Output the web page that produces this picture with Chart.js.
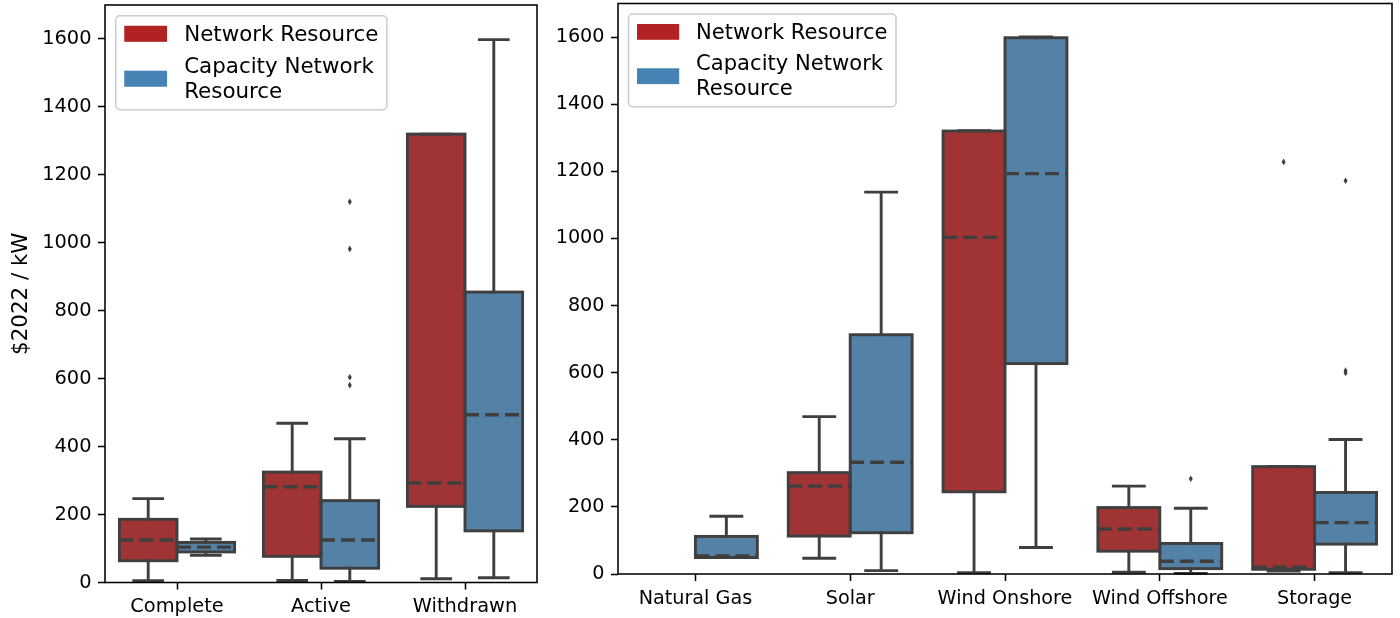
<!DOCTYPE html>
<html>
<head>
<meta charset="utf-8">
<script src="https://cdn.jsdelivr.net/npm/chart.js@4.4.1/dist/chart.umd.min.js"></script>
<style>
  html, body { margin: 0; padding: 0; background: #ffffff; }
  #wrap { position: relative; width: 1400px; height: 618px; overflow: hidden; }
  canvas { position: absolute; top: 0; }
  #statusChart { left: 0; }
  #techChart { left: 545px; }
</style>
</head>
<body>
<div id="wrap">
  <canvas id="statusChart" width="545" height="618"></canvas>
  <canvas id="techChart" width="855" height="618"></canvas>
</div>
<script>
// Interconnection upgrade cost distributions, $2022 per kW.
// Each box: lower whisker, Q1, median, Q3, upper whisker, plus outlying points.

const seriesNames = [['Network Resource'], ['Capacity Network', 'Resource']];
const yTickValues = [0, 200, 400, 600, 800, 1000, 1200, 1400, 1600];
const yAxisTitle = '$2022 / kW';

// ---- by queue status ----
const statusCategories = ['Complete', 'Active', 'Withdrawn'];

const statusNrLow    = [5, 6, 11];
const statusNrQ1     = [64, 77, 224];
const statusNrMedian = [125, 282, 293];
const statusNrQ3     = [186, 325, 1320];
const statusNrHigh   = [247, 469, 1320];
const statusNrFliers = [[], [], []];

const statusCnrLow    = [80, 3, 14];
const statusCnrQ1     = [90, 42, 152];
const statusCnrMedian = [104, 125, 494];
const statusCnrQ3     = [118, 241, 855];
const statusCnrHigh   = [128, 423, 1598];
const statusCnrFliers = [[], [1121, 982, 604, 581], []];

// ---- by technology ----
const techCategories = ['Natural Gas', 'Solar', 'Wind Onshore', 'Wind Offshore', 'Storage'];

const techNrLow    = [null, 47, 4, 5, 9];
const techNrQ1     = [null, 113, 245, 68, 14];
const techNrMedian = [null, 262, 1003, 134, 20];
const techNrQ3     = [null, 302, 1320, 198, 320];
const techNrHigh   = [null, 469, 1321, 262, 320];
const techNrFliers = [[], [], [], [], [1228]];

const techCnrLow    = [49, 10, 79, 2, 4];
const techCnrQ1     = [49, 123, 627, 16, 89];
const techCnrMedian = [54, 333, 1193, 38, 153];
const techCnrQ3     = [112, 713, 1598, 91, 243];
const techCnrHigh   = [172, 1138, 1600, 196, 401];
const techCnrFliers = [[], [], [], [284], [1172, 606, 599]];

// ---- styling ----
const FONT = 'DejaVu Sans';
const boxFill = ['#A03434', '#5481A6'];
const legendFill = ['#B22222', '#4682B4'];
const lineGray = '#3f3f3f';
const LW = 2.9;

Chart.defaults.font.family = FONT;
Chart.defaults.color = '#000';

// whiskers, caps, box outlines, dashed medians and outlier diamonds
function boxDetailsPlugin(stats) {
  return {
    id: 'boxDetails',
    afterDatasetsDraw(chart) {
      const ctx = chart.ctx;
      const ys = chart.scales.y;
      ctx.save();
      ctx.strokeStyle = lineGray;
      ctx.fillStyle = lineGray;
      ctx.lineWidth = LW;
      stats.forEach((st, d) => {
        const meta = chart.getDatasetMeta(d);
        meta.data.forEach((bar, i) => {
          if (st.q1[i] == null) return;
          const { x, width } = bar.getProps(['x', 'width'], true);
          const yLo = ys.getPixelForValue(st.low[i]);
          const yQ1 = ys.getPixelForValue(st.q1[i]);
          const yMed = ys.getPixelForValue(st.median[i]);
          const yQ3 = ys.getPixelForValue(st.q3[i]);
          const yHi = ys.getPixelForValue(st.high[i]);
          const left = x - width / 2;

          // box outline
          ctx.setLineDash([]);
          ctx.lineJoin = 'miter';
          ctx.strokeRect(left, yQ3, width, yQ1 - yQ3);

          // whiskers + caps
          ctx.lineCap = 'square';
          ctx.beginPath();
          ctx.moveTo(x, yQ1); ctx.lineTo(x, yLo);
          ctx.moveTo(x, yQ3); ctx.lineTo(x, yHi);
          ctx.moveTo(x - width / 4, yLo); ctx.lineTo(x + width / 4, yLo);
          ctx.moveTo(x - width / 4, yHi); ctx.lineTo(x + width / 4, yHi);
          ctx.stroke();

          // median (dashed)
          ctx.lineCap = 'butt';
          ctx.lineWidth = 3.4;
          ctx.setLineDash([14, 6]);
          ctx.beginPath();
          ctx.moveTo(left, yMed); ctx.lineTo(left + width, yMed);
          ctx.stroke();
          ctx.setLineDash([]);
          ctx.lineWidth = LW;

          // outliers (thin diamonds)
          st.fliers[i].forEach(v => {
            const py = ys.getPixelForValue(v);
            ctx.beginPath();
            ctx.moveTo(x, py - 3.3);
            ctx.lineTo(x + 2, py);
            ctx.lineTo(x, py + 3.3);
            ctx.lineTo(x - 2, py);
            ctx.closePath();
            ctx.fill();
          });
        });
      });
      ctx.restore();
    }
  };
}

// axes frame on all four sides
const framePlugin = {
  id: 'frame',
  afterDraw(chart) {
    const { ctx, chartArea: a } = chart;
    ctx.save();
    ctx.strokeStyle = '#000';
    ctx.lineWidth = 1.55;
    ctx.strokeRect(a.left, a.top, a.right - a.left, a.bottom - a.top);
    ctx.restore();
  }
};

// legend with wrapped labels
function legendPlugin(f) {
  return {
    id: 'boxLegend',
    afterDraw(chart) {
      const { ctx, chartArea: a } = chart;
      ctx.save();
      ctx.font = f + 'px "' + FONT + '"';
      let textW = 0;
      seriesNames.forEach(lines => lines.forEach(t => { textW = Math.max(textW, ctx.measureText(t).width); }));
      const bx = a.left + 0.5 * f;
      const by = a.top + 0.5 * f;
      const w = 0.4 * f + 2 * f + 0.8 * f + textW + 0.4 * f;
      const h = 4.39 * f;
      ctx.beginPath();
      ctx.roundRect(bx, by, w, h, 0.2 * f);
      ctx.fillStyle = 'rgba(255,255,255,0.8)';
      ctx.fill();
      ctx.strokeStyle = '#cccccc';
      ctx.lineWidth = 1.5;
      ctx.stroke();

      const handleX = bx + 0.4 * f;
      const textX = handleX + 2 * f + 0.8 * f;
      const handleTops = [0.47 * f, 2.57 * f];
      const baselines = [[1.2 * f], [2.67 * f, 3.84 * f]];
      ctx.textBaseline = 'alphabetic';
      ctx.textAlign = 'left';
      seriesNames.forEach((lines, k) => {
        ctx.fillStyle = legendFill[k];
        ctx.fillRect(handleX, by + handleTops[k], 2 * f, 0.75 * f);
        ctx.fillStyle = '#000';
        lines.forEach((t, j) => ctx.fillText(t, textX, by + baselines[k][j]));
      });
      ctx.restore();
    }
  };
}

function stats(low, q1, median, q3, high, fliers) {
  return { low, q1, median, q3, high, fliers };
}

function makeChart(canvasId, categories, seriesStats, layout) {
  const datasets = seriesStats.map((st, k) => ({
    label: seriesNames[k].join(' '),
    data: st.q1.map((v, i) => (v == null ? null : [v, st.q3[i]])),
    backgroundColor: boxFill[k],
    borderWidth: 0,
    categoryPercentage: 0.8,
    barPercentage: 1.0
  }));

  const yScale = {
    min: 0,
    max: 1700,
    afterBuildTicks(s) { s.ticks = yTickValues.map(v => ({ value: v })); },
    grid: { drawOnChartArea: false, drawTicks: true, tickLength: 7, tickWidth: 1.55, tickColor: '#000' },
    border: { display: false },
    ticks: {
      color: '#000',
      font: { family: FONT, size: layout.tickSize },
      padding: 6.5,
      callback: v => String(v)
    },
    afterFit(s) {
      s.width = layout.yWidth;
      s.paddingTop = 0;
      s.paddingBottom = 0;
    }
  };
  if (layout.yTitle) {
    yScale.title = {
      display: true,
      text: layout.yTitle,
      color: '#000',
      font: { family: FONT, size: layout.titleSize },
      padding: { top: 9, bottom: 0 }
    };
  }

  return new Chart(document.getElementById(canvasId), {
    type: 'bar',
    data: { labels: categories, datasets },
    options: {
      responsive: false,
      animation: false,
      devicePixelRatio: 1,
      events: [],
      layout: { padding: { left: 0, right: layout.padRight, top: layout.padTop, bottom: 0 } },
      plugins: { legend: { display: false }, tooltip: { enabled: false } },
      scales: {
        x: {
          offset: true,
          grid: { display: true, offset: false, drawOnChartArea: false, drawTicks: true, tickLength: 7, tickWidth: 1.55, tickColor: '#000' },
          border: { display: false },
          ticks: { color: '#000', font: { family: FONT, size: layout.tickSize }, padding: 6, maxRotation: 0, autoSkip: false },
          afterFit(s) {
            s.height = layout.xHeight;
            s.paddingLeft = 0;
            s.paddingRight = 0;
          }
        },
        y: yScale
      }
    },
    plugins: [boxDetailsPlugin(seriesStats), framePlugin, legendPlugin(layout.legendSize)]
  });
}

makeChart('statusChart', statusCategories, [
  stats(statusNrLow, statusNrQ1, statusNrMedian, statusNrQ3, statusNrHigh, statusNrFliers),
  stats(statusCnrLow, statusCnrQ1, statusCnrMedian, statusCnrQ3, statusCnrHigh, statusCnrFliers)
], { yWidth: 105, padRight: 8, padTop: 5, xHeight: 35.5, tickSize: 19.4, legendSize: 21.4, titleSize: 21.4, yTitle: yAxisTitle });

makeChart('techChart', techCategories, [
  stats(techNrLow, techNrQ1, techNrMedian, techNrQ3, techNrHigh, techNrFliers),
  stats(techCnrLow, techCnrQ1, techCnrMedian, techCnrQ3, techCnrHigh, techCnrFliers)
], { yWidth: 73, padRight: 8, padTop: 3.5, xHeight: 44, tickSize: 19.2, legendSize: 21.1, titleSize: 21.1, yTitle: null });
</script>
</body>
</html>
